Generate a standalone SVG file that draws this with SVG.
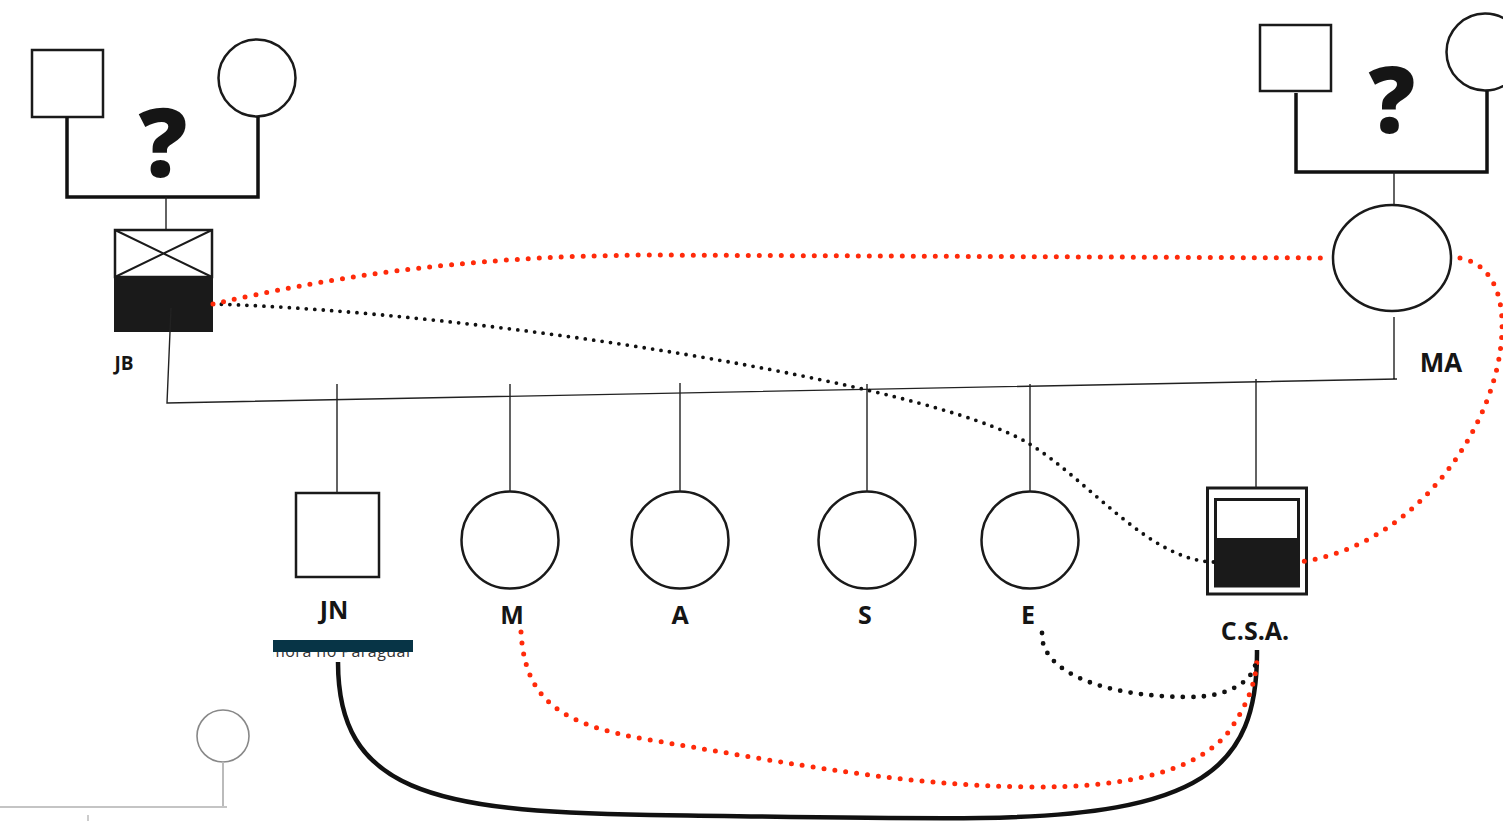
<svg xmlns="http://www.w3.org/2000/svg" width="1503" height="821" viewBox="0 0 1503 821">
<style>
.sym{fill:#fff;stroke:#1a1a1a;stroke-width:2.5}
.thick{fill:none;stroke:#111;stroke-width:3.5;stroke-linejoin:miter}
.thin{fill:none;stroke:#222;stroke-width:1.4}
.lbl{font-family:"Open Sans","DejaVu Sans",sans-serif;font-weight:700;fill:#151515;text-anchor:middle}
.q{font-family:"Open Sans","DejaVu Sans",sans-serif;font-weight:800;fill:#151515;text-anchor:middle}
.reddot{fill:none;stroke:#ff2a0a;stroke-width:5;stroke-linecap:round;stroke-dasharray:0 11}
.blkdot{fill:none;stroke:#111;stroke-width:3.8;stroke-linecap:round;stroke-dasharray:0 8.5}
.blkdot2{fill:none;stroke:#111;stroke-width:4.8;stroke-linecap:round;stroke-dasharray:0 10.5}
</style>
<defs>
<clipPath id="noteClip"><rect x="273" y="630" width="145" height="40"/></clipPath>
</defs>
<rect width="1503" height="821" fill="#fff"/>

<g id="jb-parents">
<rect class="sym" x="32" y="50" width="71" height="67"/>
<circle class="sym" cx="257" cy="78" r="38.5"/>
<path class="thick" d="M67,117 V197 H258 V117"/>
<line class="thin" x1="166" y1="197" x2="166" y2="230" stroke-width="2"/>
<text class="q" x="163" y="177" font-size="96">?</text>
</g>

<g id="ma-parents">
<rect class="sym" x="1260" y="25" width="71" height="66"/>
<circle class="sym" cx="1485" cy="52" r="38.5"/>
<path class="thick" d="M1296,93 V172 H1487 V91"/>
<line class="thin" x1="1394" y1="172" x2="1394" y2="205" stroke-width="2"/>
<text class="q" x="1392" y="133" font-size="92">?</text>
</g>

<g id="node-JB">
<rect x="115" y="230" width="97" height="47" fill="#fff" stroke="#1a1a1a" stroke-width="2.5"/>
<path d="M115,230 L212,277 M212,230 L115,277" stroke="#1a1a1a" stroke-width="2" fill="none"/>
<rect x="114" y="277" width="99" height="55" fill="#1a1a1a"/>
<text class="lbl" x="124" y="370" font-size="19">JB</text>
</g>

<g id="node-MA">
<ellipse class="sym" cx="1392" cy="258" rx="59" ry="53"/>
<text class="lbl" x="1441" y="372" font-size="26">MA</text>
</g>

<g id="node-JN">
<rect class="sym" x="296" y="493" width="83" height="84"/>
<text class="lbl" x="334" y="619" font-size="25">JN</text>
<text x="270" y="657" font-family="'Open Sans','DejaVu Sans',sans-serif" font-size="16" fill="#333" textLength="140" clip-path="url(#noteClip)">mora no Paraguai</text>
<rect x="273" y="640" width="140" height="12" fill="#073446"/>
</g>

<g id="node-M">
<circle class="sym" cx="510" cy="540" r="48.5"/>
<text class="lbl" x="512" y="624" font-size="25">M</text>
</g>
<g id="node-A">
<circle class="sym" cx="680" cy="540" r="48.5"/>
<text class="lbl" x="680" y="624" font-size="25">A</text>
</g>
<g id="node-S">
<circle class="sym" cx="867" cy="540" r="48.5"/>
<text class="lbl" x="865" y="624" font-size="25">S</text>
</g>
<g id="node-E">
<circle class="sym" cx="1030" cy="540" r="48.5"/>
<text class="lbl" x="1028" y="624" font-size="25">E</text>
</g>

<g id="node-CSA">
<rect x="1207.5" y="488" width="99" height="106" fill="#fff" stroke="#1a1a1a" stroke-width="3"/>
<rect x="1215.5" y="499.5" width="83" height="86.5" fill="#fff" stroke="#1a1a1a" stroke-width="3"/>
<rect x="1215.5" y="538" width="83" height="48" fill="#1a1a1a"/>
<text class="lbl" x="1255" y="640" font-size="25">C.S.A.</text>
</g>

<g id="faint-fragment">
<circle cx="223" cy="736" r="26" fill="#fff" stroke="#888" stroke-width="1.6"/>
<line x1="223" y1="762" x2="223" y2="807" stroke="#bbb" stroke-width="2"/>
<line x1="0" y1="807" x2="227" y2="807" stroke="#c4c4c4" stroke-width="2"/>
<line x1="88" y1="815" x2="88" y2="821" stroke="#bbb" stroke-width="1.5"/>
</g>

<g id="connectors">
<path class="thin" d="M171,308 L167,403 L1397,379 M1394,317 V380" stroke-width="1.6"/>
<path class="thin" d="M337,384 V493 M510,384 V492 M680,383 V492 M867,384 V492 M1030,384 V492 M1256,379 V488"/>
<path class="blkdot" d="M213,304 C480,312 928,383 1028,443 C1088,479 1150,562 1215,562"/>
<path class="reddot" d="M213,304 C320,280 450,256 650,255 L1328,258"/>
<path class="reddot" d="M1460,258 C1495,265 1503,300 1502,330 C1500,420 1420,545 1300,562"/>
<path d="M338,662 C338,790 430,812 650,815 C800,817 900,819 980,818 C1200,815 1258,770 1257,650" fill="none" stroke="#111" stroke-width="4.5"/>
<path class="reddot" d="M521,632 C525,700 560,725 650,740 C800,765 900,785 1030,787 C1130,788 1200,770 1230,730 C1250,700 1256,680 1257,658"/>
<path class="blkdot2" d="M1042,633 C1040,670 1100,697 1190,697 C1230,697 1255,680 1256,660"/>
</g>
</svg>
